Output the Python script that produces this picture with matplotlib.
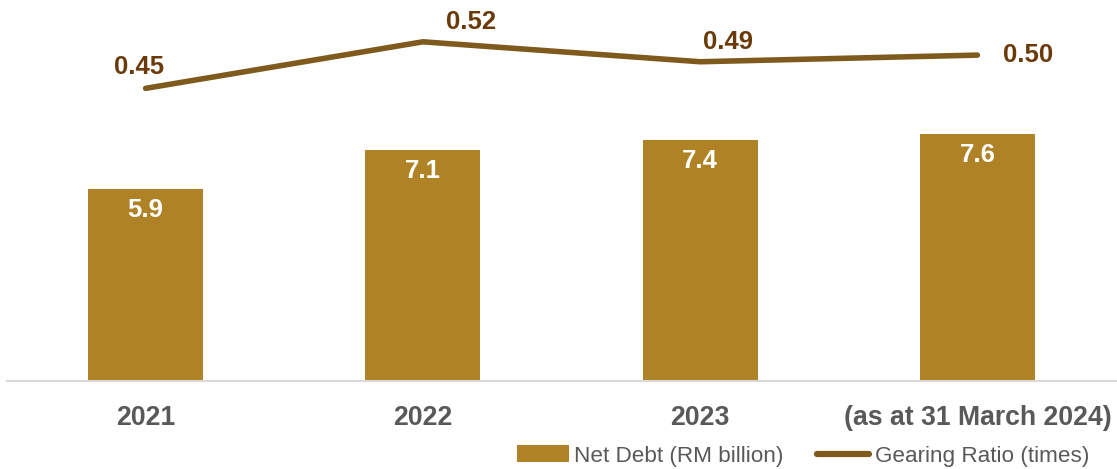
import matplotlib
matplotlib.use("Agg")
import matplotlib.pyplot as plt
from matplotlib.lines import Line2D
from matplotlib.patches import Patch

categories = ["2021", "2022", "2023", "(as at 31 March 2024)"]
net_debt = [5.9, 7.1, 7.4, 7.6]
gearing = [0.45, 0.52, 0.49, 0.50]
gearing_labels = ["0.45", "0.52", "0.49", "0.50"]

BAR = "#B08226"
LINE = "#7E5B1C"
LBL = "#6B3A0A"
TICK = "#595959"

plt.rcParams['font.family'] = ['Liberation Sans', 'DejaVu Sans']

fig = plt.figure(figsize=(11.17, 4.69), dpi=100)
W, H = 1117, 469
ax = fig.add_axes([7 / W, (H - 381) / H, 1109 / W, 381 / H])
ax2 = ax.twinx()

x = list(range(len(categories)))
ax.bar(x, net_debt, width=0.415, color=BAR, zorder=2)
ax.set_xlim(-0.5, 3.5)
ax.set_ylim(0, 381 / 32.55)

for xi, v in zip(x, net_debt):
    ax.annotate(f"{v:.1f}", (xi, v), xytext=(0, -21), textcoords="offset pixels",
                ha="center", va="center", color="white", fontsize=18.5, fontweight="bold")

ax2.plot(x, gearing, color=LINE, lw=4, solid_capstyle="round", zorder=3)
ax2.set_ylim((387.6 - 381) / 665, 387.6 / 665)
offsets = [(-7, 21), (48, 20), (28, 20), (51, 0)]
for xi, v, t, (dx, dy) in zip(x, gearing, gearing_labels, offsets):
    ax2.annotate(t, (xi, v), xytext=(dx, dy), textcoords="offset pixels",
                 ha="center", va="center", color=LBL, fontsize=18.5, fontweight="bold")

for a in (ax, ax2):
    for s in ("top", "right", "left"):
        a.spines[s].set_visible(False)
    a.set_yticks([])
ax2.spines["bottom"].set_visible(False)
ax.spines["bottom"].set_color("#D9D9D9")
ax.spines["bottom"].set_linewidth(1.5)

ax.set_xticks(x)
ax.set_xticklabels(categories, fontsize=19.2, fontweight="bold", color=TICK)
ax.tick_params(axis="x", length=0, pad=17)

handles = [Patch(facecolor=BAR, edgecolor="none"),
           Line2D([0], [0], color=LINE, lw=4.5, solid_capstyle="round")]
fig.legend(handles, ["Net Debt (RM billion)", "Gearing Ratio (times)"],
           loc="center", bbox_to_anchor=(803 / W, 1 - 456 / H), ncol=2, frameon=False,
           fontsize=16.2, labelcolor=TICK, handlelength=2.3, handleheight=0.75,
           handletextpad=0.25, columnspacing=1.5, borderpad=0)

fig.savefig("out.png", dpi=100)
